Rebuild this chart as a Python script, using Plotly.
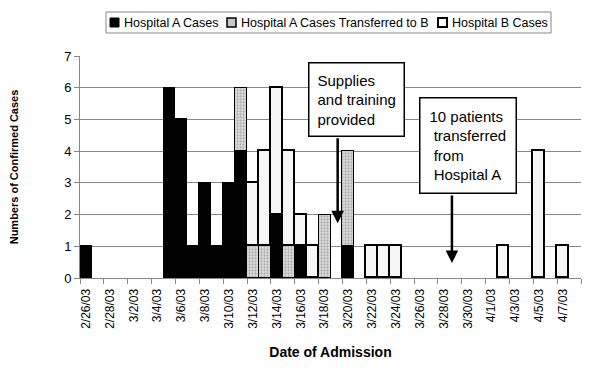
import plotly.graph_objects as go

dates = ["2/26/03", "2/27/03", "2/28/03",
         "3/1/03", "3/2/03", "3/3/03", "3/4/03", "3/5/03", "3/6/03", "3/7/03", "3/8/03",
         "3/9/03", "3/10/03", "3/11/03", "3/12/03", "3/13/03", "3/14/03", "3/15/03",
         "3/16/03", "3/17/03", "3/18/03", "3/19/03", "3/20/03", "3/21/03", "3/22/03",
         "3/23/03", "3/24/03", "3/25/03", "3/26/03", "3/27/03", "3/28/03", "3/29/03",
         "3/30/03", "3/31/03",
         "4/1/03", "4/2/03", "4/3/03", "4/4/03", "4/5/03", "4/6/03", "4/7/03", "4/8/03"]

hospital_a = [1, 0, 0,
              0, 0, 0, 0, 6, 5, 1, 3, 1, 3, 4, 0, 0, 2, 0, 1, 0, 0, 0, 1, 0, 0,
              0, 0, 0, 0, 0, 0, 0, 0, 0,
              0, 0, 0, 0, 0, 0, 0, 0]
transferred_b = [0, 0, 0,
                 0, 0, 0, 0, 0, 0, 0, 0, 0, 0, 2, 1, 1, 0, 1, 0, 0, 2, 0, 3, 0, 0,
                 0, 0, 0, 0, 0, 0, 0, 0, 0,
                 0, 0, 0, 0, 0, 0, 0, 0]
hospital_b = [0, 0, 0,
              0, 0, 0, 0, 0, 0, 0, 0, 0, 0, 0, 2, 3, 4, 3, 1, 1, 0, 0, 0, 0, 1,
              1, 1, 0, 0, 0, 0, 0, 0, 0,
              0, 1, 0, 0, 4, 0, 1, 0]

series_names = ["Hospital A Cases", "Hospital A Cases Transferred to B", "Hospital B Cases"]

def nz(v):
    return [x if x else None for x in v]

FONT = "Liberation Sans, Arial, sans-serif"
BLACK_STYLE = dict(color="black", line=dict(color="black", width=1))
GRAY_STYLE = dict(color="#d0d0d0", line=dict(color="black", width=1.5),
                  pattern=dict(shape=".", fgcolor="#7a7a7a", bgcolor="#e0e0e0",
                               size=3, solidity=0.45))
WHITE_STYLE = dict(color="#f6f6f6", line=dict(color="black", width=1.8))

fig = go.Figure()
fig.add_trace(go.Bar(x=dates, y=nz(hospital_a), name=series_names[0], marker=BLACK_STYLE))
fig.add_trace(go.Bar(x=dates, y=nz(transferred_b), name=series_names[1], marker=GRAY_STYLE))
fig.add_trace(go.Bar(x=dates, y=nz(hospital_b), name=series_names[2], marker=WHITE_STYLE))

# page is offset by the 8px body margin; figure sized to fit the 600x368 window
W, H = 584, 352
ML, MR, MT, MB = 72, 11, 48, 82

fig.update_layout(
    width=W, height=H,
    barmode="stack", bargap=0,
    paper_bgcolor="white", plot_bgcolor="white",
    margin=dict(l=ML, r=MR, t=MT, b=MB, autoexpand=False),
    font=dict(family=FONT, color="black"),
    showlegend=False,
    xaxis=dict(type="category", categoryorder="array", categoryarray=dates,
               range=[-0.5, len(dates) - 0.5],
               tickmode="linear", tick0=0, dtick=2, tickson="boundaries",
               ticks="outside", ticklen=5, tickcolor="#888", tickangle=-90,
               ticklabelstandoff=5,
               tickfont=dict(size=12), showline=True, linecolor="#888", linewidth=1,
               showgrid=False, automargin=False,
               title=dict(text="<b>Date of Admission</b>", font=dict(size=14), standoff=24)),
    yaxis=dict(range=[0, 7], dtick=1, showgrid=True, gridcolor="#888", gridwidth=1,
               showline=True, linecolor="#888", ticks="outside", ticklen=5, tickcolor="#888",
               tickfont=dict(size=13), zeroline=False, automargin=False,
               title=dict(text="<b>Numbers of Confirmed Cases</b>", font=dict(size=11), standoff=44)),
)

# ---- custom compact legend (positions in window pixels -> paper coords) ----
PW = W - ML - MR
PH = H - MT - MB
def xp(px):
    return (px - 8 - ML) / PW
def yp(py):
    return (H - MB - (py - 8)) / PH

fig.add_shape(type="rect", xref="paper", yref="paper",
              x0=xp(106), x1=xp(551), y0=yp(33), y1=yp(12),
              line=dict(color="#888", width=1), fillcolor="white", layer="above")
legend_items = [(110, 123, series_names[0], "black", "black", 1),
                (227, 240, series_names[1], "#c8c8c8", "black", 1.5),
                (438, 451, series_names[2], "white", "black", 2)]
for sx, tx, name, fill, lc, lw in legend_items:
    fig.add_shape(type="rect", xref="paper", yref="paper",
                  x0=xp(sx), x1=xp(sx + 9), y0=yp(27), y1=yp(18),
                  line=dict(color=lc, width=lw), fillcolor=fill, layer="above")
    fig.add_annotation(x=xp(tx), y=yp(22.5), xref="paper", yref="paper",
                       xanchor="left", yanchor="middle", showarrow=False,
                       text=name, font=dict(size=12.5, family=FONT), borderpad=0)

# ---- text boxes with arrows ----
fig.add_annotation(x=22.7, y=5.63, xref="x", yref="y", showarrow=False,
                   text="Supplies<br>and training<br>provided", align="left",
                   font=dict(size=15, family=FONT), bgcolor="white",
                   bordercolor="black", borderwidth=1.5, borderpad=8)
fig.add_annotation(x=21.1, y=1.73, ax=21.1, ay=4.45, xref="x", yref="y", axref="x", ayref="y",
                   text="", showarrow=True, arrowhead=2, arrowsize=1, arrowwidth=2.5,
                   arrowcolor="black")
fig.add_annotation(x=32.06, y=4.18, xref="x", yref="y", showarrow=False,
                   text="10 patients<br>\u00a0transferred<br>\u00a0from<br>\u00a0Hospital A", align="left",
                   font=dict(size=15, family=FONT), bgcolor="white",
                   bordercolor="black", borderwidth=1.5, borderpad=9)
fig.add_annotation(x=30.68, y=0.47, ax=30.68, ay=2.65, xref="x", yref="y", axref="x", ayref="y",
                   text="", showarrow=True, arrowhead=2, arrowsize=1, arrowwidth=2.5,
                   arrowcolor="black")

fig.write_html("out.html")
